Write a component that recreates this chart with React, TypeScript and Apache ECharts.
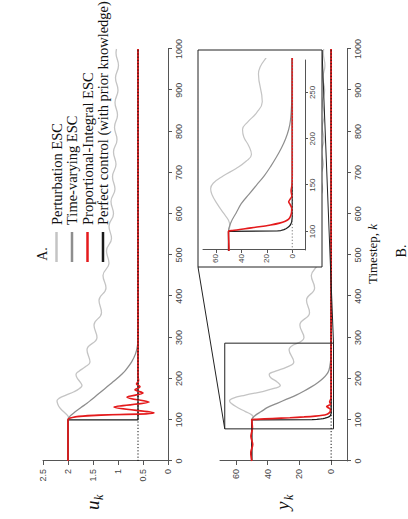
import React, { useEffect, useRef } from "react";
import * as echarts from "echarts";

// ---- data ----
const seriesNames = [
  "Perturbation ESC",
  "Time-varying ESC",
  "Proportional-Integral ESC",
  "Perfect control (with prior knowledge)",
];

// Perturbation ESC
const pertT = [0, 100, 106, 112, 120, 130, 140, 146, 152, 160, 168, 176, 183, 192, 202, 210, 218, 228, 240, 270, 300, 330, 360, 390, 420, 450, 480, 510, 540, 570, 600, 630, 660, 690, 720, 750, 780, 810, 840, 870, 900, 930, 960, 990, 1000];
const pertU = [2.0, 2.0, 1.99, 2.02, 2.09, 2.17, 2.21, 2.22, 2.18, 2.04, 1.88, 1.77, 1.72, 1.76, 1.82, 1.84, 1.78, 1.66, 1.56, 1.62, 1.42, 1.48, 1.33, 1.38, 1.24, 1.3, 1.18, 1.23, 1.13, 1.18, 1.09, 1.14, 1.06, 1.11, 1.04, 1.09, 1.02, 1.07, 1.01, 1.06, 1.0, 1.05, 0.99, 1.04, 1.03];
const pertY = [50, 50, 49, 50, 54, 59, 63, 64, 62, 54, 44, 36, 32, 34, 38, 39, 35, 28, 23.5, 26.5, 17.1, 19.7, 13.6, 15.5, 10.4, 12.5, 8.6, 10.1, 7.2, 8.6, 6.1, 7.4, 5.4, 6.6, 4.9, 6.1, 4.5, 5.6, 4.3, 5.4, 4.1, 5.2, 3.9, 4.9, 4.7];

// Time-varying ESC
const tvT = [0, 100, 110, 120, 130, 140, 150, 160, 170, 180, 190, 200, 210, 220, 240, 260, 280, 300, 1000];
const tvU = [2, 2, 1.95, 1.85, 1.74, 1.62, 1.52, 1.42, 1.32, 1.22, 1.12, 1.02, 0.93, 0.85, 0.73, 0.65, 0.61, 0.6, 0.6];
const tvY = [50, 50, 48, 44, 40, 34, 28, 22, 17, 12.5, 8.5, 5.2, 2.8, 1.4, 0.4, 0.1, 0, 0, 0];

// Proportional-Integral ESC
const piUT = [0, 100, 117, 131, 143, 155, 165, 173, 180, 187, 195, 205, 1000];
const piU = [2, 2, 0.28, 1.08, 0.38, 0.82, 0.5, 0.66, 0.56, 0.63, 0.59, 0.6, 0.6];
const piYT = [0, 20, 40, 60, 80, 100, 101, 103, 105, 107, 109, 111, 113, 116, 120, 125, 129, 132, 135, 138, 144, 150, 160, 1000];
const piY = [50, 50.6, 49.4, 50.5, 49.6, 50, 47, 37, 26, 17, 10, 5.5, 3, 1.5, 0.6, 0.4, 1.6, 2.8, 1.6, 0.3, 0.9, 0.2, 0, 0];

// Perfect control
const perfUT = [0, 100, 100, 1000];
const perfU = [2, 2, 0.6, 0.6];
const perfYT = [0, 100, 100.5, 101, 102, 103, 104, 105, 107, 110, 115, 1000];
const perfY = [50, 50, 12, 9, 6.5, 5, 3.8, 2.8, 1.5, 0.5, 0, 0];

// optimum reference (dotted)
const refT = [0, 1000];
const refU = [0.6, 0.6];
const refY = [0, 0];

// axes
const uRange = [0, 2.5];
const yRange = [-10, 70];
const yTicks = [0, 20, 40, 60];
const tRange = [0, 1000];
const insetT = [80, 285];
const insetTicks = [100, 150, 200, 250];
const zoomT = [78, 286];
const zoomV = [-1.5, 67];

const W = 519;
const H = 408;

const COLORS = ["#c4c4c4", "#8e8e8e", "#e41a1c", "#1a1a1a"];

const pair = (ts: number[], vs: number[]) => ts.map((t, i) => [t, vs[i]]);

export default function App() {
  const ref = useRef<HTMLDivElement>(null);

  useEffect(() => {
    const chart = echarts.init(ref.current!, null, { renderer: "svg", width: W, height: H });

    const axisCommon = (gridIndex: number, fs: number, margin: number, z: number) => ({
      gridIndex,
      type: "value",
      z,
      axisLine: { show: true, onZero: false, lineStyle: { color: "#555", width: 1 } },
      axisTick: { show: true, length: 4, lineStyle: { color: "#555", width: 1 } },
      axisLabel: {
        color: "#444",
        fontSize: fs,
        fontFamily: "Liberation Sans",
        margin,
        formatter: (v: number) => String(v),
      },
      splitLine: { show: false },
    });

    const line = (
      name: string,
      data: number[][],
      color: string,
      width: number,
      xi: number,
      smooth: number | false,
      z: number,
      extra: any = {}
    ) => ({
      type: "line",
      name,
      data,
      xAxisIndex: xi,
      yAxisIndex: xi,
      showSymbol: false,
      symbol: "none",
      smooth,
      clip: true,
      z,
      lineStyle: { color, width },
      itemStyle: { color },
      ...extra,
    });

    const seriesFor = (gi: number, z: number, lw: number) => {
      const isU = gi === 0;
      const refColor = gi === 2 ? "#777" : "#111";
      return [
        line(seriesNames[0], pair(pertT, isU ? pertU : pertY), COLORS[0], lw, gi, 0.45, z),
        line(seriesNames[1], pair(tvT, isU ? tvU : tvY), COLORS[1], lw, gi, 0.35, z),
        line(seriesNames[3], isU ? pair(perfUT, perfU) : pair(perfYT, perfY), COLORS[3], lw, gi, false, z),
        line(seriesNames[2], isU ? pair(piUT, piU) : pair(piYT, piY), COLORS[2], lw + 0.4, gi, 0.3, z),
        line("optimum", pair(refT, isU ? refU : refY), refColor, 1, gi, false, z, {
          lineStyle: { color: refColor, width: 1, type: [1.2, 2] },
          silent: true,
        }),
      ];
    };

    const option: any = {
      animation: false,
      backgroundColor: "#fff",
      textStyle: { fontFamily: "Liberation Sans" },
      grid: [
        { left: 58, width: 412, top: 43, height: 125 },
        { left: 58, width: 412, top: 220, height: 127 },
        { left: 269, width: 190, top: 203, height: 102, z: 10 },
      ],
      xAxis: [
        { ...axisCommon(0, 9, 6, 0), min: tRange[0], max: tRange[1], interval: 100 },
        { ...axisCommon(1, 9, 6, 0), min: tRange[0], max: tRange[1], interval: 100 },
        (() => {
          const a: any = axisCommon(2, 8, 3, 10);
          a.min = insetT[0];
          a.max = insetT[1];
          a.axisTick = { ...a.axisTick, length: 3, customValues: insetTicks };
          a.axisLabel = { ...a.axisLabel, customValues: insetTicks };
          return a;
        })(),
      ],
      yAxis: [
        { ...axisCommon(0, 9, 8, 0), min: uRange[0], max: uRange[1], interval: 0.5 },
        (() => {
          const a: any = axisCommon(1, 9, 8, 0);
          a.min = yRange[0];
          a.max = yRange[1];
          a.axisTick = { ...a.axisTick, customValues: yTicks };
          a.axisLabel = { ...a.axisLabel, customValues: yTicks };
          return a;
        })(),
        (() => {
          const a: any = axisCommon(2, 8, 4, 10);
          a.min = yRange[0];
          a.max = yRange[1];
          a.axisTick = { ...a.axisTick, length: 3, customValues: yTicks };
          a.axisLabel = { ...a.axisLabel, customValues: yTicks };
          return a;
        })(),
      ],
      legend: {
        data: seriesNames.map((n, i) => ({ name: n, itemStyle: { color: COLORS[i] } })),
        orient: "vertical",
        left: 252,
        top: 44,
        itemWidth: 30,
        itemHeight: 2.5,
        itemGap: 0.5,
        icon: "rect",
        textStyle: { fontFamily: "Liberation Serif", fontSize: 14.5, color: "#111", padding: [0, 0, 0, 2] },
        selectedMode: false,
      },
      series: [...seriesFor(0, 2, 1.3), ...seriesFor(1, 2, 1.3), ...seriesFor(2, 10, 1.2)],
    };

    chart.setOption(option);

    const tl = chart.convertToPixel({ gridIndex: 1 } as any, [zoomT[0], zoomV[1]]) as number[];
    const br = chart.convertToPixel({ gridIndex: 1 } as any, [zoomT[1], zoomV[0]]) as number[];
    const box = { x: 252, y: 198, w: 217, h: 124 };

    chart.setOption({
      graphic: [
        {
          type: "rect",
          z: 5,
          shape: { x: box.x, y: box.y, width: box.w, height: box.h },
          style: { fill: "#fff", stroke: "#222", lineWidth: 1 },
        },
        {
          type: "rect",
          z: 4,
          shape: { x: tl[0], y: tl[1], width: br[0] - tl[0], height: br[1] - tl[1] },
          style: { fill: "none", stroke: "#222", lineWidth: 1 },
        },
        {
          type: "line",
          z: 4,
          shape: { x1: tl[0], y1: tl[1], x2: box.x, y2: box.y },
          style: { stroke: "#222", lineWidth: 1 },
        },
        {
          type: "line",
          z: 4,
          shape: { x1: br[0], y1: br[1], x2: box.x + box.w, y2: box.y + box.h },
          style: { stroke: "#222", lineWidth: 1 },
        },
        {
          type: "text",
          z: 20,
          x: 265,
          y: 42,
          style: { text: "A.", font: '14px "Liberation Serif"', fill: "#111", align: "center", verticalAlign: "middle" },
        },
        {
          type: "text",
          z: 20,
          x: 268,
          y: 401,
          style: { text: "B.", font: '14px "Liberation Serif"', fill: "#111", align: "center", verticalAlign: "middle" },
        },
        {
          type: "text",
          z: 20,
          x: 265,
          y: 372,
          style: {
            text: "{a|Timestep, }{b|k}",
            align: "center",
            verticalAlign: "middle",
            fill: "#111",
            rich: {
              a: { font: '13px "Liberation Serif"', fill: "#111" },
              b: { font: 'italic 13px "Liberation Serif"', fill: "#111" },
            },
          },
        },
        {
          type: "text",
          z: 20,
          x: 9,
          y: 92,
          style: { text: "u", font: 'italic 19px "Liberation Serif"', fill: "#111", verticalAlign: "middle" },
        },
        {
          type: "text",
          z: 20,
          x: 19,
          y: 99,
          style: { text: "k", font: 'italic 12px "Liberation Serif"', fill: "#111", verticalAlign: "middle" },
        },
        {
          type: "text",
          z: 20,
          x: 9,
          y: 282,
          style: { text: "y", font: 'italic 19px "Liberation Serif"', fill: "#111", verticalAlign: "middle" },
        },
        {
          type: "text",
          z: 20,
          x: 19,
          y: 289,
          style: { text: "k", font: 'italic 12px "Liberation Serif"', fill: "#111", verticalAlign: "middle" },
        },
      ],
    });

    return () => chart.dispose();
  }, []);

  return (
    <div
      style={{
        position: "fixed",
        left: 0,
        top: 0,
        width: 408,
        height: 519,
        overflow: "hidden",
        background: "#fff",
      }}
    >
      <div
        ref={ref}
        style={{
          position: "absolute",
          left: 0,
          top: 0,
          width: W,
          height: H,
          transformOrigin: "0 0",
          transform: `translate(0px, ${W}px) rotate(-90deg)`,
        }}
      />
    </div>
  );
}
